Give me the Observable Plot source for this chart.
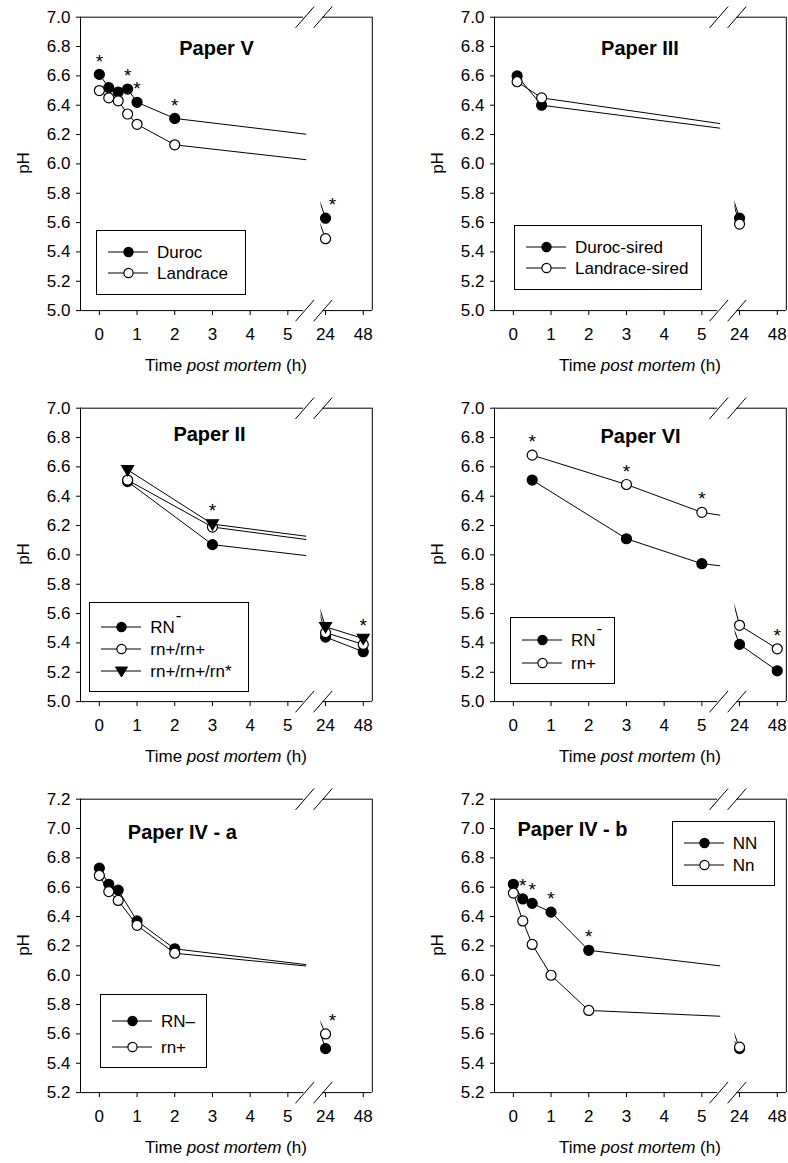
<!DOCTYPE html>
<html><head><meta charset="utf-8">
<script src="https://cdn.jsdelivr.net/npm/d3@7"></script>
<script src="https://cdn.jsdelivr.net/npm/@observablehq/plot@0.6"></script>
<style>
body{margin:0;background:#fff;font-family:"Liberation Sans",Arial,sans-serif;color:#000;}
#fig{position:relative;width:788px;height:1163px;overflow:hidden;background:#fff;}
.layer{position:absolute;width:374px;height:391px;}
.layer svg{position:absolute;left:0;top:0;}
.xt{position:absolute;font-size:17px;line-height:1;white-space:nowrap;transform:translate(-50%,-50%);}
.yt{position:absolute;font-size:17px;line-height:1;white-space:nowrap;transform:translate(-50%,-50%) rotate(-90deg);}
.leg{position:absolute;border:1px solid #000;background:#fff;box-sizing:border-box;}
.leg svg{position:absolute;left:0;}
.leg span{position:absolute;font-size:17px;line-height:1;white-space:nowrap;transform:translateY(-50%);}
.sup{font-size:12px;position:relative;top:-3px;margin-left:1px;}
</style>
</head><body>
<div id="fig"></div>
<script>
// ---------- data ----------
// Paper V
const pV_time = [0, 0.25, 0.5, 0.75, 1, 2, 24];
const pV_duroc = [6.61, 6.52, 6.49, 6.51, 6.42, 6.31, 5.63];
const pV_landrace = [6.50, 6.45, 6.43, 6.34, 6.27, 6.13, 5.49];
const pV_sig = [0, 0.75, 1, 2, 24];
// Paper III
const pIII_time = [0.1, 0.75, 24];
const pIII_duroc = [6.60, 6.40, 5.63];
const pIII_landrace = [6.56, 6.45, 5.59];
const pIII_sig = [];
// Paper II
const pII_time = [0.75, 3, 24, 48];
const pII_RNminus = [6.50, 6.07, 5.44, 5.34];
const pII_rnrn = [6.51, 6.19, 5.47, 5.39];
const pII_rnrnrn = [6.58, 6.21, 5.51, 5.43];
const pII_sig = [3, 48];
// Paper VI
const pVI_time = [0.5, 3, 5, 24, 48];
const pVI_RNminus = [6.51, 6.11, 5.94, 5.39, 5.21];
const pVI_rn = [6.68, 6.48, 6.29, 5.52, 5.36];
const pVI_sig = [0.5, 3, 5, 48];
// Paper IV - a
const pIVa_time = [0, 0.25, 0.5, 1, 2, 24];
const pIVa_RNminus = [6.73, 6.62, 6.58, 6.37, 6.18, 5.50];
const pIVa_rn = [6.68, 6.57, 6.51, 6.34, 6.15, 5.60];
const pIVa_sig = [24];
// Paper IV - b
const pIVb_time = [0, 0.25, 0.5, 1, 2, 24];
const pIVb_NN = [6.62, 6.52, 6.49, 6.43, 6.17, 5.50];
const pIVb_Nn = [6.56, 6.37, 6.21, 6.00, 5.76, 5.51];
const pIVb_sig = [0.25, 0.5, 1, 2];

// tick labels
const xTicksLeft = [0, 1, 2, 3, 4, 5];
const xTicksRight = [24, 48];
const yTicksA = [5.0, 5.2, 5.4, 5.6, 5.8, 6.0, 6.2, 6.4, 6.6, 6.8, 7.0];
const yTicksB = [5.2, 5.4, 5.6, 5.8, 6.0, 6.2, 6.4, 6.6, 6.8, 7.0, 7.2];
const xTitle = 'Time <i>post mortem</i> (h)';
const yTitle = 'pH';

// ---------- panels ----------
const panels = [
  {title:"Paper V", col:0, row:0, yTicks:yTicksA, time:pV_time, sig:pV_sig,
   series:[{name:"Duroc", values:pV_duroc, kind:"filled"}, {name:"Landrace", values:pV_landrace, kind:"open"}],
   tdx:136, tdy:38.3, leg:{x:16, y:213.3, w:150, h:65, y0:22, gap:21}},
  {title:"Paper III", col:1, row:0, yTicks:yTicksA, time:pIII_time, sig:pIII_sig,
   series:[{name:"Duroc-sired", values:pIII_duroc, kind:"filled"}, {name:"Landrace-sired", values:pIII_landrace, kind:"open"}],
   tdx:145.5, tdy:38.3, leg:{x:20, y:208.3, w:188, h:65, y0:22, gap:21}},
  {title:"Paper II", col:0, row:1, yTicks:yTicksA, time:pII_time, sig:pII_sig,
   series:[{name:"RN–", sup:true, values:pII_RNminus, kind:"filled"}, {name:"rn+/rn+", values:pII_rnrn, kind:"open"}, {name:"rn+/rn+/rn*", values:pII_rnrnrn, kind:"tri"}],
   tdx:129, tdy:32.7, leg:{x:9.3, y:194.4, w:160, h:90, y0:25.6, gap:21.8}},
  {title:"Paper VI", col:1, row:1, yTicks:yTicksA, time:pVI_time, sig:pVI_sig,
   series:[{name:"RN–", sup:true, values:pVI_RNminus, kind:"filled"}, {name:"rn+", values:pVI_rn, kind:"open"}],
   tdx:146, tdy:34.4, leg:{x:16, y:209.4, w:104.7, h:67.3, y0:23.3, gap:23.3}},
  {title:"Paper IV - a", col:0, row:2, yTicks:yTicksB, time:pIVa_time, sig:pIVa_sig,
   series:[{name:"RN–", values:pIVa_RNminus, kind:"filled"}, {name:"rn+", values:pIVa_rn, kind:"open"}],
   tdx:101.8, tdy:39.7, leg:{x:20, y:195.7, w:106.7, h:73.7, y0:26.7, gap:26}},
  {title:"Paper IV - b", col:1, row:2, yTicks:yTicksB, time:pIVb_time, sig:pIVb_sig,
   series:[{name:"NN", values:pIVb_NN, kind:"filled"}, {name:"Nn", values:pIVb_Nn, kind:"open"}],
   tdx:78, tdy:36.7, leg:{x:177.7, y:22.4, w:103, h:65.3, y0:22, gap:22.3}}
];

// ---------- layout ----------
const W = 374, H = 391;
const FL = 80, FT = 16.7, FH = 293.4, U = 37.7;
const COLX = [0, 414], ROWY = [0, 390.7, 781.5];
const posPx = p => FL + (p + 0.5) * U;          // axis position -> px
const hoursOfPos = p => 24 + (p - 6) * 24;       // post-break axis position -> hours
const LEFT_CLIP_POS = 5.5, LEFT_FRAME_POS = 5.42, SLASH1_POS = 5.45;
const RIGHT_CLIP_POS = 5.88, RIGHT_FRAME_POS = 5.93, RIGHT_END_POS = 7.24;
const FONT = '"Liberation Sans", Arial, sans-serif';

const triDown = {draw(ctx, size) { const r = Math.sqrt(size / Math.PI); const w = r * 1.2;
  ctx.moveTo(-w, -r * 0.85); ctx.lineTo(w, -r * 0.85); ctx.lineTo(0, r * 1.2); ctx.closePath(); }};
const slash = {draw(ctx) { ctx.moveTo(-9.3, 10.7); ctx.lineTo(9.3, -10.7); }};

const fig = document.getElementById("fig");

function seriesMarks(rows, s, filterFn) {
  const pts = rows.filter(d => d.series === s.name);
  const kindFill = s.kind === "open" ? "white" : "black";
  return [
    Plot.line(pts, {x: "t", y: "v", stroke: "black", strokeWidth: 1, clip: true}),
    Plot.dot(pts.filter(filterFn), {x: "t", y: "v", r: 5, fill: kindFill, stroke: "black", strokeWidth: 1.2,
      symbol: s.kind === "tri" ? triDown : "circle"})
  ];
}

panels.forEach(p => {
  const y0 = p.yTicks[0], y1 = p.yTicks[p.yTicks.length - 1];
  const rows = [];
  p.series.forEach(s => s.values.forEach((v, i) => rows.push({series: s.name, t: p.time[i], v})));
  const sigRows = p.sig.map(t => ({t, v: d3.max(rows.filter(r => r.t === t), r => r.v)}));
  const left = document.createElement("div");
  left.className = "layer";
  left.style.left = COLX[p.col] + "px"; left.style.top = ROWY[p.row] + "px";
  fig.appendChild(left);

  const common = {width: W, height: H, marginTop: FT, marginBottom: H - FT - FH,
    style: {fontFamily: FONT, fontSize: "17px", background: "transparent", color: "black", overflow: "visible"}};

  // pre-break section
  const leftPlot = Plot.plot({
    ...common,
    marginLeft: FL, marginRight: W - posPx(LEFT_CLIP_POS),
    x: {domain: [-0.5, LEFT_CLIP_POS], ticks: xTicksLeft, tickFormat: d3.format("d"), tickSize: 5, tickPadding: 12, label: null},
    y: {domain: [y0, y1], ticks: p.yTicks, tickFormat: d3.format(".1f"), tickSize: 4, tickPadding: 6, label: null},
    marks: [
      Plot.ruleX([-0.5], {stroke: "black"}),
      Plot.ruleY([y0, y1], {x1: () => -0.5, x2: () => LEFT_FRAME_POS, stroke: "black"}),
      Plot.dot([y0, y1], {x: () => SLASH1_POS, y: d => d, symbol: slash, r: 5, fill: "none", stroke: "black", strokeWidth: 1}),
      ...p.series.flatMap(s => seriesMarks(rows, s, d => d.t <= LEFT_CLIP_POS)),
      Plot.text(sigRows.filter(d => d.t <= LEFT_CLIP_POS), {x: "t", y: "v", text: () => "*", fontSize: 19, dy: -13}),
      Plot.text([p.title], {frameAnchor: "top-left", text: d => d, dx: p.tdx, dy: p.tdy - 14.3, lineAnchor: "top",
        textAnchor: "middle", fontSize: 20, fontWeight: "bold"})
    ]
  });
  left.appendChild(leftPlot);

  // post-break section
  const rMin = hoursOfPos(RIGHT_CLIP_POS), rMax = hoursOfPos(RIGHT_END_POS);
  const rightPlot = Plot.plot({
    ...common,
    marginLeft: posPx(RIGHT_CLIP_POS), marginRight: W - posPx(RIGHT_END_POS),
    x: {domain: [rMin, rMax], ticks: xTicksRight, tickFormat: d3.format("d"), tickSize: 5, tickPadding: 12, label: null},
    y: {domain: [y0, y1], axis: null},
    marks: [
      Plot.ruleX([rMax], {stroke: "black"}),
      Plot.ruleY([y0, y1], {x1: () => hoursOfPos(RIGHT_FRAME_POS), x2: () => rMax, stroke: "black"}),
      Plot.dot([y0, y1], {x: () => hoursOfPos(RIGHT_FRAME_POS), y: d => d, symbol: slash, r: 5, fill: "none", stroke: "black", strokeWidth: 1}),
      ...p.series.flatMap(s => seriesMarks(rows, s, d => d.t >= rMin)),
      Plot.text(sigRows.filter(d => d.t === 24), {x: "t", y: "v", text: () => "*", fontSize: 19, dy: -13, dx: 7}),
      Plot.text(sigRows.filter(d => d.t > 24), {x: "t", y: "v", text: () => "*", fontSize: 19, dy: -13})
    ]
  });
  left.appendChild(rightPlot);

  // axis titles
  const xt = document.createElement("div");
  xt.className = "xt"; xt.innerHTML = xTitle;
  xt.style.left = (COLX[p.col] + FL + (posPx(RIGHT_END_POS) - FL) / 2) + "px";
  xt.style.top = (ROWY[p.row] + FT + FH + 55) + "px";
  fig.appendChild(xt);
  const yt = document.createElement("div");
  yt.className = "yt"; yt.textContent = yTitle;
  yt.style.left = (COLX[p.col] + FL - 57) + "px";
  yt.style.top = (ROWY[p.row] + FT + FH / 2) + "px";
  fig.appendChild(yt);

  // legend box
  const L = p.leg;
  const box = document.createElement("div");
  box.className = "leg";
  box.style.left = (COLX[p.col] + FL + L.x) + "px";
  box.style.top = (ROWY[p.row] + FT + L.y) + "px";
  box.style.width = L.w + "px"; box.style.height = L.h + "px";
  p.series.forEach((s, i) => {
    const cy = L.y0 + i * L.gap - 1;
    const sym = s.kind === "tri"
      ? `<path d="M25.5,7 L37.5,7 L31.5,17 Z" fill="black" stroke="black" stroke-width="1"/>`
      : `<circle cx="31.5" cy="11" r="4.6" fill="${s.kind === "open" ? "white" : "black"}" stroke="black" stroke-width="1.2"/>`;
    const svg = `<svg width="60" height="22" style="top:${cy - 11}px"><line x1="11" x2="51" y1="11" y2="11" stroke="black" stroke-width="1"/>${sym}</svg>`;
    const label = s.sup ? s.name.replace("–", '<span class="sup">-</span>') : s.name;
    box.insertAdjacentHTML("beforeend", svg + `<span style="left:60px;top:${cy}px">${label}</span>`);
  });
  fig.appendChild(box);
});
</script>
</body></html>
